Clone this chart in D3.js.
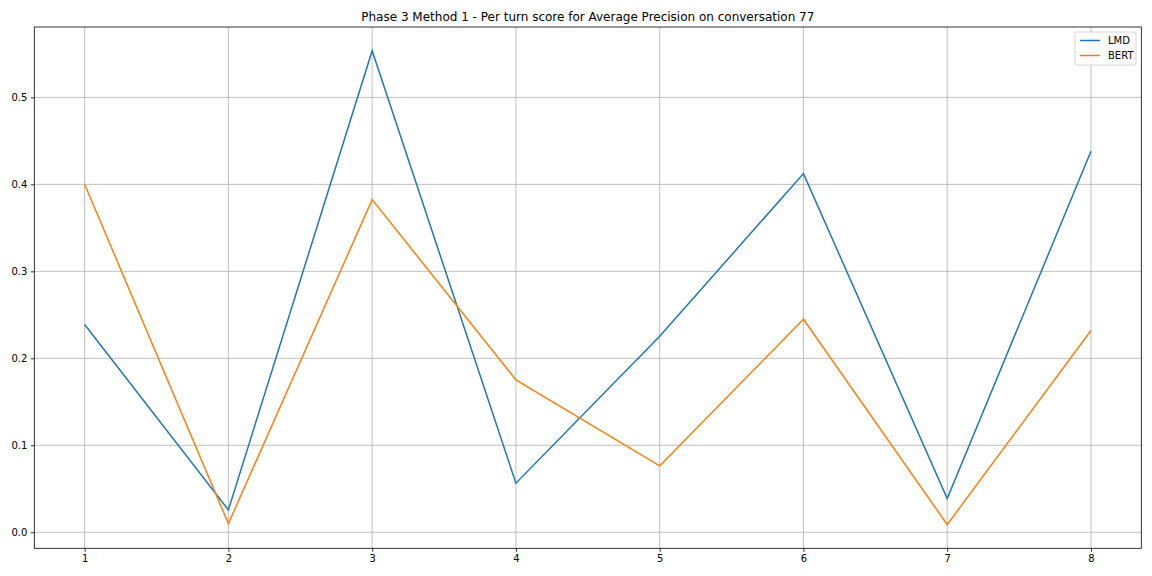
<!DOCTYPE html>
<html><head><meta charset="utf-8">
<script src="https://cdn.jsdelivr.net/npm/d3@7"></script>
<style>body{margin:0;background:#fff;} svg{display:block;} text{font-family:"DejaVu Sans",sans-serif;}</style>
</head><body><svg id="c" width="1152" height="576"></svg>
<script>
const turns = [1,2,3,4,5,6,7,8];
const lmd  = [0.2388,0.0257,0.5537,0.0564,0.2253,0.4124,0.0387,0.4381];
const bert = [0.4001,0.0099,0.3825,0.1751,0.0764,0.2449,0.0088,0.2319];
const yTicks = [0.0,0.1,0.2,0.3,0.4,0.5];
const seriesNames = ["LMD","BERT"];
const colors = ["#1f77b4","#ff7f0e"];
const title = "Phase 3 Method 1 - Per turn score for Average Precision on conversation 77";

const svg = d3.select("#c");
const L=34.3, R=1141.3, T=27, B=548.3;
const x = d3.scaleLinear().domain([0.65,8.35]).range([L,R]);
const allV = lmd.concat(bert);
const mn = d3.min(allV), mx = d3.max(allV), pad=(mx-mn)*0.05;
const y = d3.scaleLinear().domain([mn-pad, mx+pad]).range([B,T]);

const g = svg.append("g");
// grid
g.selectAll(".vg").data(turns).enter().append("line")
 .attr("x1",d=>x(d)).attr("x2",d=>x(d)).attr("y1",T).attr("y2",B)
 .attr("stroke","#b0b0b0").attr("stroke-width",0.8);
g.selectAll(".hg").data(yTicks).enter().append("line")
 .attr("x1",L).attr("x2",R).attr("y1",d=>y(d)).attr("y2",d=>y(d))
 .attr("stroke","#b0b0b0").attr("stroke-width",0.8);

const xa = svg.append("g").attr("transform",`translate(0,${B})`)
 .call(d3.axisBottom(x).tickValues(turns).tickFormat(d3.format("d")).tickSize(3.5).tickPadding(3.5));
const ya = svg.append("g").attr("transform",`translate(${L},0)`)
 .call(d3.axisLeft(y).tickValues(yTicks).tickFormat(d3.format(".1f")).tickSize(3.5).tickPadding(3.5));
[xa,ya].forEach(a=>{a.select(".domain").remove();a.selectAll("text").attr("font-size",10).attr("fill","#000").style("font-family","DejaVu Sans");a.selectAll("line").attr("stroke","#000").attr("stroke-width",0.8);});

const line = d3.line().x((d,i)=>x(turns[i])).y(d=>y(d));
[lmd,bert].forEach((s,k)=>{
 svg.append("path").datum(s).attr("d",line).attr("fill","none").attr("stroke",colors[k]).attr("stroke-width",1.5);
});

svg.append("rect").attr("x",L).attr("y",T).attr("width",R-L).attr("height",B-T)
 .attr("fill","none").attr("stroke","#000").attr("stroke-width",0.8);

svg.append("text").attr("x",(L+R)/2).attr("y",21).attr("text-anchor","middle")
 .attr("font-size",12).text(title);

// legend
const lg = svg.append("g").attr("transform","translate(1075,32)");
lg.append("rect").attr("x",0).attr("y",0).attr("width",61).attr("height",33).attr("rx",2)
 .attr("fill","#fff").attr("fill-opacity",0.8).attr("stroke","#ccc").attr("stroke-width",0.8);
seriesNames.forEach((n,i)=>{
 const yy = 8.5+i*15;
 lg.append("line").attr("x1",5).attr("x2",25).attr("y1",yy).attr("y2",yy).attr("stroke",colors[i]).attr("stroke-width",1.5);
 lg.append("text").attr("x",33).attr("y",yy+3.5).attr("font-size",10).text(n);
});
</script></body></html>
